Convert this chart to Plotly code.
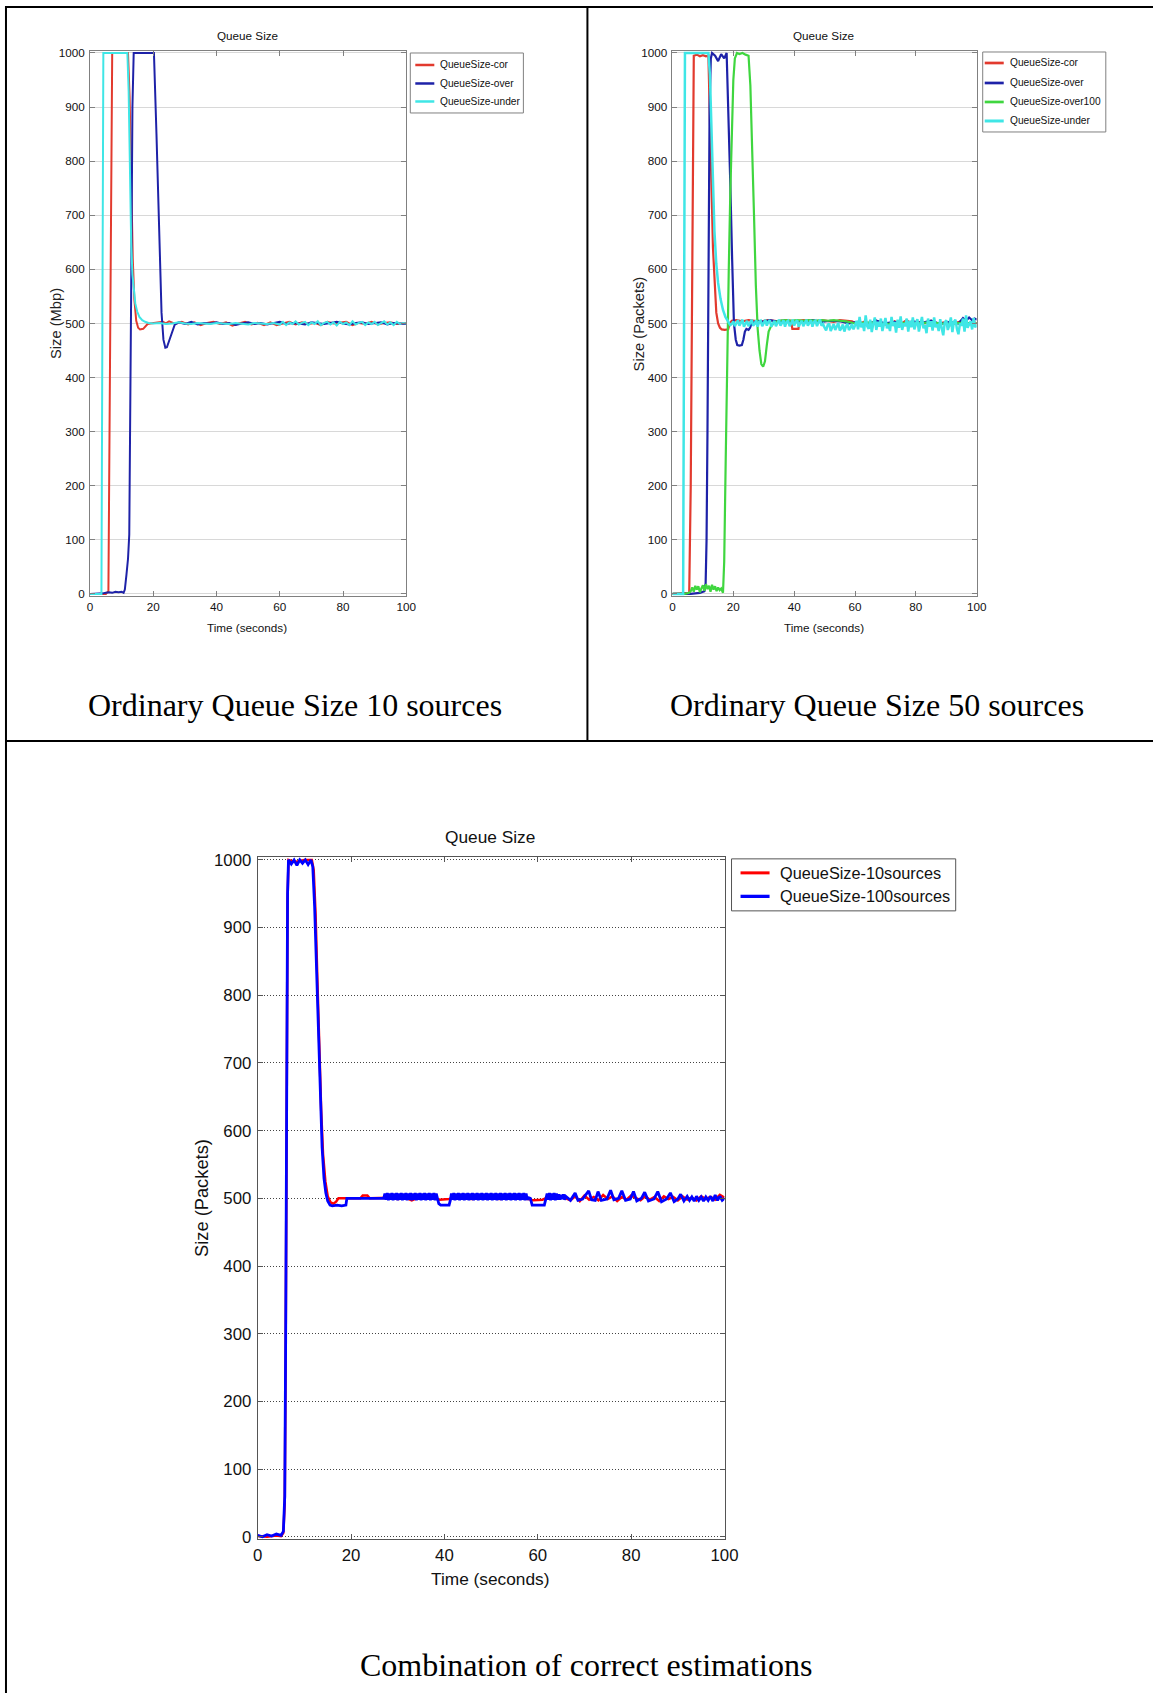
import plotly.graph_objects as go

# ---------------- DATA ----------------
# Top-left panel: Ordinary Queue Size, 10 sources
TL_T_COR = [
    0, 5.0, 5.8, 6.2, 6.6, 7.0, 9, 12.0, 12.5, 13.0,
    13.5, 14.0, 14.6, 15.2, 15.8, 16.8, 17.5, 18.2, 19, 21,
    23, 24, 25, 27, 29, 31, 33, 35, 37, 39,
    41, 43, 45, 47, 49, 51, 53, 55, 57, 59,
    61, 63, 65, 67, 69, 71, 73, 75, 77, 79,
    81, 83, 85, 87, 89, 91, 93, 95, 97, 100]
TL_Y_COR = [
    0, 0, 5, 350, 800, 1000, 1000, 1000, 920, 760,
    620, 545, 505, 492, 489, 490, 494, 499, 500, 501,
    503, 500, 504, 499, 503, 498, 502, 497, 501, 503,
    499, 502, 496, 500, 503, 498, 501, 497, 502, 497,
    500, 503, 498, 502, 499, 501, 497, 503, 500, 502,
    503, 497, 501, 499, 503, 498, 501, 502, 499, 501]

TL_T_OVER = [
    0, 2, 4, 5, 6, 7, 8, 9, 10, 10.6,
    11.0, 11.5, 12.0, 12.4, 12.7, 13.0, 13.4, 13.8, 16, 20.2,
    21.0, 21.8, 22.6, 23.2, 23.8, 24.3, 25.0, 25.8, 26.8, 28,
    30, 32, 34, 36, 38, 40, 42, 44, 46, 48,
    50, 52, 54, 56, 58, 60, 62, 64, 66, 68,
    70, 72, 74, 76, 78, 80, 82, 84, 86, 88,
    90, 92, 94, 96, 98, 100]
TL_Y_OVER = [
    0, 0, 1, 2, 3, 2, 4, 3, 4, 2,
    8, 35, 65, 110, 300, 560, 900, 1000, 1000, 1000,
    850, 680, 520, 470, 455, 456, 468, 485, 498, 502,
    499, 503, 498, 501, 500, 502, 499, 501, 497, 500,
    502, 499, 501, 498, 500, 503, 499, 501, 500, 498,
    502, 500, 499, 501, 503, 500, 498, 501, 502, 499,
    500, 502, 498, 501, 500, 499]

TL_T_UNDER = [
    0, 3.6, 3.9, 4.2, 6, 9, 11.8, 12.2, 12.6, 13.0,
    13.4, 13.8, 14.3, 14.9, 15.6, 16.5, 17.4, 18.5, 20, 22,
    24, 26, 28, 30, 32, 34, 36, 38, 40, 42,
    44, 46, 48, 50, 52, 54, 56, 58, 60, 61,
    62, 63, 64, 65, 66, 67, 68, 69, 70, 71,
    72, 73, 74, 75, 76, 77, 78, 79, 80, 81,
    82, 83, 84, 85, 86, 87, 88, 89, 90, 91,
    92, 93, 94, 95, 96, 97, 98, 99, 100]
TL_Y_UNDER = [
    0, 0, 500, 1000, 1000, 1000, 1000, 930, 780, 650,
    590, 560, 537, 522, 512, 506, 503, 501, 500, 501,
    499, 500, 502, 500, 499, 501, 500, 499, 501, 500,
    499, 501, 500, 498, 501, 500, 499, 501, 498, 503,
    497, 502, 499, 504, 498, 501, 503, 497, 502, 499,
    504, 497, 501, 503, 498, 502, 496, 503, 499, 502,
    497, 504, 498, 501, 503, 497, 502, 499, 503, 497,
    501, 504, 498, 502, 497, 503, 499, 501, 500]

# Top-right panel: Ordinary Queue Size, 50 sources
TR_T_COR = [
    0, 5.5, 6.0, 6.5, 7.0, 8, 9, 10, 11, 11.8,
    12.3, 12.8, 13.3, 13.8, 14.4, 15.0, 15.6, 16.2, 17.2, 18.3,
    18.8, 19.5, 21, 23, 25, 27, 29, 31, 33, 35,
    37, 39.0, 39.4, 41.4, 41.8, 43, 45, 47, 49, 51,
    53, 55, 57, 59, 61, 63, 65, 67, 69, 71,
    73, 75, 77, 79, 81, 83, 85, 87, 89, 91,
    93, 95, 97, 99, 100]
TR_Y_COR = [
    0, 2, 200, 700, 995, 997, 994, 996, 994, 995,
    900, 760, 640, 570, 520, 500, 492, 489, 488, 489,
    500, 505, 506, 504, 506, 505, 503, 506, 505, 504,
    506, 505, 490, 490, 505, 506, 505, 504, 506, 505,
    503, 506, 505, 504, 498, 503, 497, 505, 501, 496,
    504, 499, 506, 497, 503, 500, 505, 498, 502, 496,
    501, 504, 499, 503, 500]

TR_T_OVER = [
    0, 3, 6, 9, 10.5, 10.9, 11.2, 11.5, 11.8, 12.2,
    12.6, 13.0, 14, 15, 16, 17, 17.8, 18.4, 19.0, 19.6,
    20.2, 20.8, 21.3, 22.0, 22.8, 23.3, 23.8, 24.3, 25.0, 25.5,
    26.0, 28, 30, 32, 34, 36, 38, 40, 43, 46,
    49, 52, 55, 58, 61, 64, 67, 70, 73, 76,
    79, 82, 85, 88, 91, 94, 95.5, 96.5, 97.5, 98.5,
    99.3, 100]
TR_Y_OVER = [
    0, 0, 0, 2, 5, 20, 100, 300, 600, 900,
    990, 1000, 995, 985, 998, 990, 1000, 900, 760, 620,
    500, 470, 460, 459, 460, 470, 485, 490, 488, 492,
    500, 505, 503, 506, 504, 505, 503, 505, 504, 506,
    503, 505, 504, 500, 503, 498, 505, 500, 503, 499,
    504, 501, 505, 499, 503, 500, 510, 505, 511, 506,
    509, 507]

TR_T_OVER100 = [
    0, 4, 5.5, 6, 6.5, 7, 7.5, 8, 8.5, 9,
    9.5, 10, 10.5, 11, 11.5, 12, 12.5, 13, 13.5, 14,
    14.5, 15, 15.5, 16, 16.6, 17.0, 17.5, 18.0, 18.5, 19.0,
    19.5, 20.0, 20.5, 21.2, 22, 23, 24, 25.0, 25.6, 26.2,
    26.8, 27.4, 28.0, 28.6, 29.2, 29.8, 30.4, 31.0, 31.6, 32.4,
    33.5, 35, 37, 39, 41, 43, 45, 47, 49, 51,
    53, 55, 57, 60, 65, 70, 75, 80, 85, 90,
    95, 100]
TR_Y_OVER100 = [
    0, 0, 2, 5, 12, 4, 15, 8, 14, 3,
    10, 16, 6, 18, 9, 15, 4, 17, 8, 14,
    5, 12, 7, 10, 2, 60, 250, 450, 600, 740,
    860, 950, 990, 1000, 998, 1000, 997, 995, 940, 840,
    700, 570, 490, 450, 425, 420, 430, 460, 485, 495,
    502, 505, 506, 505, 506, 505, 506, 505, 506, 505,
    506, 505, 504, 500, 502, 499, 501, 500, 502, 499,
    501, 500]

TR_T_UNDER = [
    0, 3.5, 3.8, 4.1, 6, 9, 11.8, 12.3, 12.8, 13.3,
    13.8, 14.4, 15.0, 15.8, 16.6, 17.4, 18.2, 19.0, 19.5,
    20.0, 20.5, 21.0, 21.5, 22.0, 22.5, 23.0, 23.5, 24.0, 24.5,
    25.0, 25.5, 26.0, 26.5, 27.0, 27.5, 28.0, 28.5, 29.0, 29.5,
    30.0, 30.5, 31.0, 31.5, 32.0, 32.5, 33.0, 33.5, 34.0, 34.5,
    35.0, 35.5, 36.0, 36.5, 37.0, 37.5, 38.0, 38.5, 39.0, 39.5,
    40.0, 40.5, 41.0, 41.5, 42.0, 42.5, 43.0, 43.5, 44.0, 44.5,
    45.0, 45.5, 46.0, 46.5, 47.0, 47.5, 48.0, 48.5, 49.0, 49.5,
    50.0, 50.5, 51.0, 51.5, 52.0, 52.5, 53.0, 53.5, 54.0, 54.5,
    55.0, 55.5, 56.0, 56.5, 57.0, 57.5, 58.0, 58.5, 59.0, 59.5,
    60.0, 60.5, 61.0, 61.5, 62.0, 62.5, 63.0, 63.5, 64.0, 64.5,
    65.0, 65.5, 66.0, 66.5, 67.0, 67.5, 68.0, 68.5, 69.0, 69.5,
    70.0, 70.5, 71.0, 71.5, 72.0, 72.5, 73.0, 73.5, 74.0, 74.5,
    75.0, 75.5, 76.0, 76.5, 77.0, 77.5, 78.0, 78.5, 79.0, 79.5,
    80.0, 80.5, 81.0, 81.5, 82.0, 82.5, 83.0, 83.5, 84.0, 84.5,
    85.0, 85.5, 86.0, 86.5, 87.0, 87.5, 88.0, 88.5, 89.0, 89.5,
    90.0, 90.5, 91.0, 91.5, 92.0, 92.5, 93.0, 93.5, 94.0, 94.5,
    95.0, 95.5, 96.0, 96.5, 97.0, 97.5, 98.0, 98.5, 99.0, 99.5,
    100.0]
TR_Y_UNDER = [
    0, 0, 500, 1000, 1000, 1000, 1000, 960, 870, 760,
    670, 610, 575, 545, 525, 512, 503, 497, 499,
    504, 495, 501, 506, 496, 503, 507, 494, 500, 505,
    495, 502, 507, 496, 499, 506, 494, 503, 505, 495,
    501, 507, 496, 503, 506, 494, 500, 505, 495, 503,
    507, 496, 501, 506, 494, 503, 505, 495, 500, 507,
    496, 503, 506, 494, 501, 505, 495, 503, 507, 496,
    500, 506, 494, 503, 505, 495, 502, 507, 496, 499,
    492, 487, 497, 500, 486, 493, 499, 488, 495, 501,
    487, 491, 498, 485, 494, 500, 488, 492, 499, 489,
    496, 505, 489, 512, 493, 501, 486, 515, 495, 490,
    507, 484, 499, 511, 488, 503, 494, 509, 486, 500,
    510, 491, 498, 486, 512, 495, 503, 483, 507, 492,
    513, 488, 500, 495, 509, 485, 505, 493, 511, 489,
    498, 508, 485, 502, 512, 491, 497, 482, 509, 494,
    504, 487, 511, 493, 499, 486, 508, 491, 478, 502,
    506, 488, 497, 511, 484, 503, 507, 490, 480, 500,
    496, 509, 485, 515, 492, 498, 504, 489, 510, 493,
    497]

# Bottom panel: Combination of correct estimations
B_T_10 = [
    0, 2, 4, 5, 5.5, 5.8, 6.0, 6.2, 6.4, 6.6,
    8, 10, 11.6, 12.0, 12.4, 12.8, 13.2, 13.6, 14.0, 14.5,
    15.0, 15.6, 16.2, 16.8, 17.3, 18, 20, 22.0, 22.5, 23.5,
    24.0, 26, 28, 30, 32, 33, 34, 36, 38, 39.0,
    40, 41, 42, 44, 46, 48, 50, 52, 54, 56,
    58, 59, 60, 61, 62, 64, 66, 67, 68, 69,
    70, 71, 72, 73, 74, 75, 76, 77, 78, 79,
    80, 81, 82, 83, 84, 85, 86, 87, 88, 89,
    90, 91, 92, 93, 94, 95, 96, 97, 98, 99,
    100]
B_Y_10 = [
    1, 0, 2, 1, 6, 50, 280, 680, 940, 1000,
    997, 1000, 1000, 985, 920, 820, 720, 630, 565, 525,
    503, 494, 492, 495, 500, 500, 500, 500, 504, 504,
    500, 500, 501, 499, 500, 497, 500, 501, 500, 498,
    498, 499, 501, 500, 499, 501, 500, 499, 501, 500,
    499, 497, 497, 498, 501, 503, 500, 497, 503, 496,
    504, 498, 502, 497, 505, 499, 503, 496, 502, 498,
    504, 500, 497, 503, 498, 502, 496, 503, 499, 502,
    497, 503, 498, 501, 497, 503, 499, 502, 498, 505,
    501]

B_T_100 = [
    0, 1, 2, 3, 4, 5, 5.5, 5.8, 6.0, 6.2,
    6.4, 6.6, 7.2, 7.8, 8.4, 9.0, 9.6, 10.2, 10.8, 11.4,
    11.8, 12.2, 12.6, 13.0, 13.4, 13.8, 14.2, 14.6, 15.0, 15.5,
    16.0, 17.0, 18.0, 18.9, 19.1, 21, 23, 25, 27.0,
    27.25, 27.5, 27.75, 28.0, 28.25, 28.5, 28.75, 29.0, 29.25, 29.5, 29.75, 30.0,
    30.25, 30.5, 30.75, 31.0, 31.25, 31.5, 31.75, 32.0, 32.25, 32.5, 32.75, 33.0,
    33.25, 33.5, 33.75, 34.0, 34.25, 34.5, 34.75, 35.0, 35.25, 35.5, 35.75, 36.0,
    36.25, 36.5, 36.75, 37.0, 37.25, 37.5, 37.75, 38.0, 38.25, 38.5,
    38.8, 39.2, 41.0, 41.3,
    41.5, 41.75, 42.0, 42.25, 42.5, 42.75, 43.0, 43.25, 43.5, 43.75, 44.0, 44.25,
    44.5, 44.75, 45.0, 45.25, 45.5, 45.75, 46.0, 46.25, 46.5, 46.75, 47.0, 47.25,
    47.5, 47.75, 48.0, 48.25, 48.5, 48.75, 49.0, 49.25, 49.5, 49.75, 50.0, 50.25,
    50.5, 50.75, 51.0, 51.25, 51.5, 51.75, 52.0, 52.25, 52.5, 52.75, 53.0, 53.25,
    53.5, 53.75, 54.0, 54.25, 54.5, 54.75, 55.0, 55.25, 55.5, 55.75, 56.0, 56.25,
    56.5, 56.75, 57.0, 57.25, 57.5, 57.75, 58.0,
    58.4, 58.8, 61.4, 61.8,
    62.0, 62.25, 62.5, 62.75, 63.0, 63.25, 63.5, 63.75, 64.0, 64.25,
    64.5, 64.75, 65.0, 65.25, 65.5, 65.75, 66.0,
    67.0, 68.0, 68.6, 69.6, 70.9, 71.5, 72.3, 72.9, 73.6, 74.8,
    75.6, 76.3, 77.3, 78.0, 78.8, 79.8, 80.5, 81.2, 82.2, 82.9,
    83.7, 84.9, 85.7, 86.5, 87.6, 88.4, 89.2, 90.0, 90.6, 91.3,
    92.0, 92.5, 93.0, 93.5, 94.0, 94.5, 95.0, 95.5, 96.0, 96.5,
    97.0, 97.5, 98.0, 98.5, 99.0, 99.5, 100]
B_Y_100 = [
    2, 0, 3, 1, 4, 2, 8, 60, 300, 700,
    950, 1000, 994, 1000, 992, 1000, 995, 1000, 993, 1000,
    990, 930, 840, 740, 640, 575, 530, 508, 496, 490,
    489, 490, 489, 490, 500, 500, 500, 500, 500,
    507, 498, 508, 497, 507, 498, 508, 497, 507, 498, 508, 497,
    507, 498, 508, 497, 507, 498, 508, 497, 507, 498, 508, 497,
    507, 498, 508, 497, 507, 498, 508, 497, 507, 498, 508, 497,
    507, 498, 508, 497, 507, 498, 508, 497, 507, 500,
    492, 490, 490, 498,
    507, 498, 508, 497, 507, 498, 508, 497, 507, 498, 508, 497,
    507, 498, 508, 497, 507, 498, 508, 497, 507, 498, 508, 497,
    507, 498, 508, 497, 507, 498, 508, 497, 507, 498, 508, 497,
    507, 498, 508, 497, 507, 498, 508, 497, 507, 498, 508, 497,
    507, 498, 508, 497, 507, 498, 508, 497, 507, 498, 508, 497,
    507, 498, 508, 497, 507, 498, 501,
    500, 490, 490, 500,
    507, 498, 508, 497, 507, 498, 508, 497, 507, 498,
    506, 498, 505, 499, 506, 498, 503,
    497, 508, 497, 499, 511, 498, 497, 510, 497, 499,
    512, 498, 500, 511, 497, 499, 510, 496, 500, 509,
    496, 499, 510, 495, 499, 508, 495, 499, 506, 496,
    503, 497, 502, 496, 503, 497, 502, 496, 502, 497,
    503, 496, 505, 497, 503, 497, 500]

X_TICKS = [0, 20, 40, 60, 80, 100]
Y_TICKS = [0, 100, 200, 300, 400, 500, 600, 700, 800, 900, 1000]

# ---------------- STYLE / LAYOUT ----------------
W, H = 1167, 1700
# photographed picture ~= 0.983*page_x + 5, 0.9925*page_y + 7 ; positions below
# are picture pixels measured on the reference and mapped back to the page.
SX, OXI, SY, OYI = 0.983, 5.0, 0.9925, 7.0
SANS = "Liberation Sans, Arial, Helvetica, sans-serif"
SERIF = "Liberation Serif, Times New Roman, serif"


def px(x):
    return ((x - OXI) / SX) / W


def py(y):
    return 1 - ((y - OYI) / SY) / H


def ydom(top_px, bot_px, r0, r1):
    s = (bot_px - top_px) / 1000.0
    t = top_px - (r1 - 1000) * s
    b = bot_px + (0 - r0) * s
    return [py(b), py(t)]


YR = [-4, 1004]
C_RED, C_DBLUE, C_CYAN, C_GREEN = "#e23a2e", "#1e22a8", "#3fe6e6", "#3fd63f"

fig = go.Figure()

TL_SERIES = [("QueueSize-cor", TL_T_COR, TL_Y_COR, C_RED, 2),
             ("QueueSize-over", TL_T_OVER, TL_Y_OVER, C_DBLUE, 2),
             ("QueueSize-under", TL_T_UNDER, TL_Y_UNDER, C_CYAN, 2)]
TR_SERIES = [("QueueSize-cor", TR_T_COR, TR_Y_COR, C_RED, 2.2),
             ("QueueSize-over", TR_T_OVER, TR_Y_OVER, C_DBLUE, 2.2),
             ("QueueSize-over100", TR_T_OVER100, TR_Y_OVER100, C_GREEN, 2.2),
             ("QueueSize-under", TR_T_UNDER, TR_Y_UNDER, C_CYAN, 2.5)]
B_SERIES = [("QueueSize-10sources", B_T_10, B_Y_10, "#ff0000", 2.5),
            ("QueueSize-100sources", B_T_100, B_Y_100, "#0000ff", 2.8)]

for series, xa, ya in [(TL_SERIES, "x", "y"), (TR_SERIES, "x2", "y2"), (B_SERIES, "x3", "y3")]:
    for name, t, v, c, w in series:
        fig.add_trace(go.Scatter(x=t, y=v, mode="lines", name=name,
                                 line=dict(color=c, width=w), xaxis=xa, yaxis=ya,
                                 showlegend=False))


def xax(dom, anchor, size, lc):
    return dict(domain=dom, anchor=anchor, range=[0, 100], tickvals=X_TICKS,
                ticks="inside", ticklen=5, tickcolor=lc, showline=True, linecolor=lc,
                linewidth=1, mirror="ticks", showgrid=False, zeroline=False,
                tickfont=dict(family=SANS, size=size, color="#111"), fixedrange=True)


def yax(dom, anchor, size, lc, gc, gdash):
    return dict(domain=dom, anchor=anchor, range=YR, tickvals=Y_TICKS,
                ticks="inside", ticklen=5, tickcolor=lc, showline=True, linecolor=lc,
                linewidth=1, mirror="ticks", showgrid=True, gridcolor=gc, griddash=gdash,
                gridwidth=1, zeroline=False, ticklabelstandoff=2,
                tickfont=dict(family=SANS, size=size, color="#111"), fixedrange=True)


TOP_DOM = ydom(54, 595, YR[0], YR[1])
BOT_DOM = ydom(861, 1538, YR[0], YR[1])

annotations = []
shapes = []


def ann(x, y, text, size, family=SANS, angle=0, color="#111", xanchor="center"):
    annotations.append(dict(x=px(x), y=py(y), xref="paper", yref="paper", text=text,
                            showarrow=False, xanchor=xanchor, yanchor="middle",
                            textangle=angle, font=dict(family=family, size=size, color=color)))


ann(247, 37, "Queue Size", 11.7)
ann(823, 37, "Queue Size", 11.7)
ann(490, 838, "Queue Size", 17.3)
ann(247, 629, "Time (seconds)", 11.7)
ann(823, 629, "Time (seconds)", 11.7)
ann(490, 1580, "Time (seconds)", 17.3)
ann(56, 325, "Size (Mbp)", 14.7, SANS, -90, "#222")
ann(638, 325, "Size (Packets)", 14.7, SANS, -90, "#222")
ann(202, 1199, "Size (Packets)", 18.3, SANS, -90, "#111")
ann(295, 706, "Ordinary Queue Size 10 sources", 32, SERIF, 0, "#000")
ann(876, 706, "Ordinary Queue Size 50 sources", 32, SERIF, 0, "#000")
ann(586, 1666, "Combination of correct estimations", 32, SERIF, 0, "#000")


def legend_box(series, box, line_x, text_x, ys, size, border):
    x0, y0, x1, y1 = box
    shapes.append(dict(type="rect", xref="paper", yref="paper", x0=px(x0), x1=px(x1),
                       y0=py(y1), y1=py(y0), line=dict(color=border, width=1),
                       fillcolor="white", layer="above"))
    for (name, _t, _v, c, w), yy in zip(series, ys):
        shapes.append(dict(type="line", xref="paper", yref="paper", x0=px(line_x[0]),
                           x1=px(line_x[1]), y0=py(yy), y1=py(yy),
                           line=dict(color=c, width=w + 0.5), layer="above"))
        ann(text_x, yy, name, size, SANS, 0, "#111", "left")


legend_box(TL_SERIES, (410, 54, 523, 114), (415, 434), 438, [66, 84.5, 102.5], 10.2, "#808080")
legend_box(TR_SERIES, (982, 53, 1105, 133), (984, 1003), 1007, [64, 84, 103, 122], 10.2, "#808080")
legend_box(B_SERIES, (731, 860, 955, 912), (740, 769), 777, [874, 897.5], 16.3, "#555555")

# page frame (page pixel coordinates)
FRAME = dict(color="black", width=2)
shapes += [
    dict(type="line", xref="paper", yref="paper", x0=0, x1=1, y0=1 - 1 / H, y1=1 - 1 / H, line=FRAME),
    dict(type="line", xref="paper", yref="paper", x0=1 / W, x1=1 / W, y0=0, y1=1, line=FRAME),
    dict(type="line", xref="paper", yref="paper", x0=px(587), x1=px(587), y0=py(742), y1=1, line=FRAME),
    dict(type="line", xref="paper", yref="paper", x0=0, x1=1, y0=py(742), y1=py(742), line=FRAME),
]

fig.update_layout(
    width=W, height=H, autosize=False,
    margin=dict(l=0, r=0, t=0, b=0),
    paper_bgcolor="white", plot_bgcolor="white",
    xaxis=xax([px(90), px(406)], "y", 11.7, "#808080"),
    yaxis=yax(TOP_DOM, "x", 11.7, "#808080", "#d8d8d8", "solid"),
    xaxis2=xax([px(672), px(976)], "y2", 11.7, "#808080"),
    yaxis2=yax(TOP_DOM, "x2", 11.7, "#808080", "#d8d8d8", "solid"),
    xaxis3=xax([px(257.5), px(724)], "y3", 16.8, "#555555"),
    yaxis3=yax(BOT_DOM, "x3", 16.8, "#555555", "#444444", "1px,2px"),
    annotations=annotations,
    shapes=shapes,
    showlegend=False,
)

fig.write_html("out.html", config={"displayModeBar": False, "responsive": False},
               post_script="document.body.style.margin='0px';document.body.style.padding='0px';")
